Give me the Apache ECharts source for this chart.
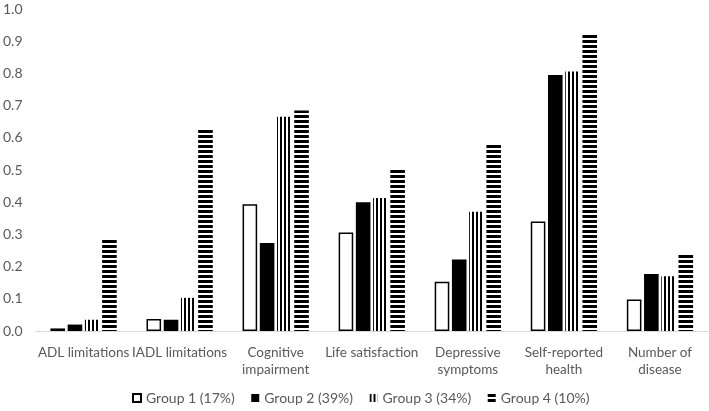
<!DOCTYPE html>
<html>
<head>
<meta charset="utf-8">
<title>Group profiles</title>
<script src="https://cdn.jsdelivr.net/npm/echarts@6/dist/echarts.min.js"></script>
<style>
  html, body { margin: 0; padding: 0; background: #fff; }
  #chart { width: 709px; height: 411px; }
</style>
</head>
<body>
<div id="chart"></div>
<script>
var categories = ['ADL limitations', 'IADL limitations', 'Cognitive\nimpairment', 'Life satisfaction',
  'Depressive\nsymptoms', 'Self-reported\nhealth', 'Number of\ndisease'];
var groupNames = ['Group 1 (17%)', 'Group 2 (39%)', 'Group 3 (34%)', 'Group 4 (10%)'];
var group1 = [0.008, 0.037, 0.394, 0.306, 0.153, 0.340, 0.098];
var group2 = [0.020, 0.035, 0.273, 0.400, 0.222, 0.795, 0.177];
var group3 = [0.035, 0.103, 0.665, 0.413, 0.370, 0.806, 0.170];
var group4 = [0.286, 0.628, 0.685, 0.503, 0.580, 0.919, 0.240];
var yTicks = [0, 0.1, 0.2, 0.3, 0.4, 0.5, 0.6, 0.7, 0.8, 0.9, 1.0];

// stripe fills, built on small canvases
function stripes(vertical) {
  var c = document.createElement('canvas');
  var ctx = c.getContext('2d');
  if (vertical) {
    c.width = 4; c.height = 4;
    ctx.fillStyle = '#fff';
    ctx.fillRect(0, 0, 4, 4);
    ctx.fillStyle = '#000';
    ctx.fillRect(0, 0, 2, 4);
  } else {
    c.width = 5; c.height = 5;
    ctx.fillStyle = '#fff';
    ctx.fillRect(0, 0, 5, 5);
    ctx.fillStyle = '#000';
    ctx.fillRect(0, 0, 5, 3);
  }
  return { image: c, repeat: 'repeat' };
}

var styles = [
  { color: '#fff', borderColor: '#000', borderWidth: 1.5 },
  { color: '#000' },
  { color: stripes(true) },
  { color: stripes(false) }
];
var values = [group1, group2, group3, group4];

var series = [];
for (var i = 0; i < 4; i++) {
  series.push({
    name: groupNames[i],
    type: 'bar',
    data: values[i],
    barGap: '18%',
    barCategoryGap: '31%',
    itemStyle: styles[i],
    emphasis: { disabled: true }
  });
}

var font = 'Lato';
var myChart = echarts.init(document.getElementById('chart'));
myChart.setOption({
  animation: false,
  textStyle: { fontFamily: font, color: '#595959' },
  grid: { left: 32, right: 1, top: 9, bottom: 80 },
  legend: {
    bottom: 1,
    left: 127,
    itemWidth: 8,
    itemHeight: 8,
    itemGap: 16.5,
    icon: 'rect',
    textStyle: { color: '#595959', fontSize: 14, fontFamily: font },
    data: groupNames
  },
  xAxis: {
    type: 'category',
    data: categories,
    axisLine: { lineStyle: { color: '#d9d9d9', width: 1 } },
    axisTick: { show: false },
    axisLabel: { color: '#595959', fontSize: 13.5, interval: 0, margin: 13, lineHeight: 17 }
  },
  yAxis: {
    type: 'value',
    min: yTicks[0],
    max: yTicks[yTicks.length - 1],
    interval: 0.1,
    splitLine: { show: false },
    axisLine: { show: false },
    axisTick: { show: false },
    axisLabel: {
      color: '#595959', fontSize: 14, margin: 13,
      formatter: function (v) { return v.toFixed(1); }
    }
  },
  series: series
});
</script>
</body>
</html>
